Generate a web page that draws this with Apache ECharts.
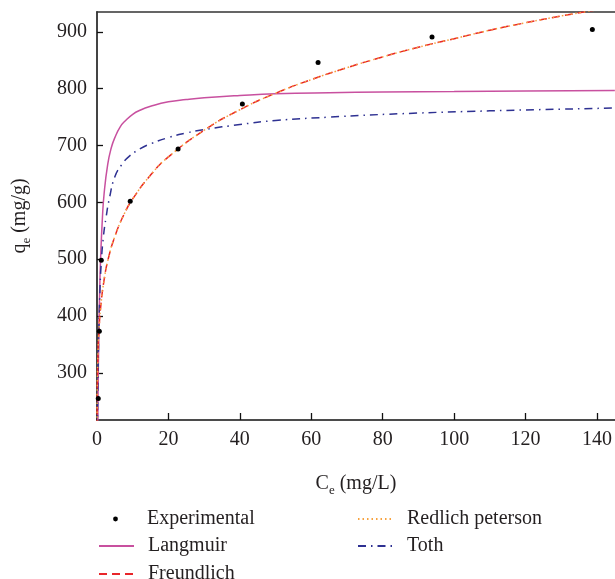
<!DOCTYPE html>
<html>
<head>
<meta charset="utf-8">
<script src="https://cdn.jsdelivr.net/npm/echarts@6/dist/echarts.min.js"></script>
<style>
  html, body { margin: 0; padding: 0; background: #fff; }
  #chart { width: 615px; height: 579px; }
</style>
</head>
<body>
<div id="chart"></div>
<script>
// Adsorption isotherm: equilibrium uptake qe against equilibrium concentration Ce
const ceExp = [0.35, 0.65, 1.2, 9.3, 22.7, 40.7, 61.9, 93.8, 138.7];
const qeExp = [255, 373, 498, 602, 694, 773, 846, 891, 904];

const ceLangmuir = [0.2, 0.3, 0.5, 0.75, 1, 1.5, 2, 3, 4, 5, 6.5, 8, 10, 12, 15, 20, 25, 30, 40, 50, 65, 80, 100, 120, 145];
const qeLangmuir = [200, 267, 364, 444, 500, 571, 616, 667, 696, 714, 733, 744, 755, 762, 769, 777, 781, 784, 788, 791, 793, 794, 795, 796, 797];

const ceFreundlich = [0.003, 0.01, 0.03, 0.1, 0.3, 0.6, 1, 2, 3.2, 5, 7.5, 10, 15, 20, 30, 40, 50, 60, 70, 80, 90, 100, 110, 120, 130, 140, 145];
const qeFreundlich = [158, 193, 231, 282, 339, 380, 414, 464, 502, 540, 578, 606, 648, 680, 727, 763, 792, 816, 837, 856, 873, 888, 903, 916, 928, 939, 945];

const ceRedlich = [0.003, 0.01, 0.03, 0.1, 0.3, 0.6, 1, 2, 3.2, 5, 7.5, 10, 15, 20, 30, 40, 50, 60, 70, 80, 90, 100, 110, 120, 130, 140, 145];
const qeRedlich = [150, 190, 229, 281, 338, 380, 414, 464, 502, 540, 578, 606, 648, 680, 727, 763, 792, 816, 837, 856, 873, 888, 903, 916, 928, 939, 945];

const ceToth = [0.1, 0.3, 0.5, 0.8, 1.2, 1.8, 2.5, 3.5, 5, 7, 9, 12, 15, 20, 25, 30, 40, 50, 65, 85, 110, 145];
const qeToth = [200, 300, 370, 440, 495, 540, 572, 608, 645, 667, 681, 694, 703, 714, 722, 728, 737, 744, 750, 756, 761, 766];

const xTicks = [0, 20, 40, 60, 80, 100, 120, 140];
const yTicks = [300, 400, 500, 600, 700, 800, 900];

const pairs = (xs, ys) => xs.map((x, i) => [x, ys[i]]);

const FONT = 'Liberation Serif';
const INK = '#231f20';

const chart = echarts.init(document.getElementById('chart'), null, { renderer: 'canvas' });

const legendText = { fontFamily: FONT, fontSize: 20, color: INK, lineHeight: 20, padding: [0, 0, 0, 9] };

// one legend entry per block so each sits in its own slot of the two-column key
function legendEntry(name, left, top, opts) {
  return Object.assign({
    data: [name], left: left, top: top, orient: 'vertical',
    itemWidth: 35, itemHeight: 14,
    itemStyle: { opacity: 0 },
    textStyle: legendText
  }, opts || {});
}

const nameRich = {
  a: { fontFamily: FONT, fontSize: 20, color: INK, lineHeight: 24, verticalAlign: 'bottom' },
  s: { fontFamily: FONT, fontSize: 13, color: INK, lineHeight: 24, verticalAlign: 'bottom', padding: [0, 0, -3, 0] }
};

chart.setOption({
  animation: false,
  backgroundColor: '#fff',
  grid: { left: 97, right: 0, top: 12, bottom: 159, containLabel: false },
  xAxis: [{
    type: 'value', min: 0, max: 145,
    name: '{a|C}{s|e}{a| (mg/L)}',
    nameLocation: 'middle', nameGap: 50,
    nameTextStyle: { rich: nameRich },
    axisLine: { show: true, onZero: false, lineStyle: { color: '#111', width: 1.5 } },
    axisTick: { show: true, inside: true, length: 7, customValues: xTicks, lineStyle: { color: '#111', width: 1.3 } },
    axisLabel: { customValues: xTicks, fontFamily: FONT, fontSize: 20, color: INK, margin: 10 },
    splitLine: { show: false }
  }, {
    type: 'value', position: 'top', min: 0, max: 145,
    axisLine: { show: true, onZero: false, lineStyle: { color: '#333', width: 1.5 } },
    axisTick: { show: false }, axisLabel: { show: false }, splitLine: { show: false }
  }],
  yAxis: {
    type: 'value', min: 217, max: 935,
    name: '{a|q}{s|e}{a| (mg/g)}',
    nameLocation: 'middle', nameGap: 67, nameRotate: 90,
    nameTextStyle: { rich: nameRich },
    axisLine: { show: true, onZero: false, lineStyle: { color: '#444', width: 2 } },
    axisTick: { show: true, inside: true, length: 6, customValues: yTicks, lineStyle: { color: '#111', width: 1.3 } },
    axisLabel: { customValues: yTicks, fontFamily: FONT, fontSize: 20, color: INK, margin: 10 },
    splitLine: { show: false }
  },
  legend: [
    legendEntry('Experimental', 93, 504, { itemHeight: 6, itemStyle: {}, lineStyle: { opacity: 0 } }),
    legendEntry('Langmuir', 93, 531),
    legendEntry('Freundlich', 93, 559),
    legendEntry('Redlich peterson', 352, 504),
    legendEntry('Toth', 352, 531)
  ],
  series: [{
    name: 'Langmuir', type: 'line', smooth: true, symbol: 'none',
    data: pairs(ceLangmuir, qeLangmuir),
    lineStyle: { color: '#c8509f', width: 1.5 },
    itemStyle: { color: '#c8509f' }, z: 2
  }, {
    name: 'Toth', type: 'line', smooth: true, symbol: 'none',
    data: pairs(ceToth, qeToth),
    lineStyle: { color: '#2e3192', width: 1.5, type: [8, 5, 1.5, 5] },
    itemStyle: { color: '#2e3192' }, z: 2
  }, {
    name: 'Freundlich', type: 'line', smooth: true, symbol: 'none',
    data: pairs(ceFreundlich, qeFreundlich),
    lineStyle: { color: '#e8262a', width: 1.5, type: [8, 5] },
    itemStyle: { color: '#e8262a' }, z: 3
  }, {
    name: 'Redlich peterson', type: 'line', smooth: true, symbol: 'none',
    data: pairs(ceRedlich, qeRedlich),
    lineStyle: { color: '#f7a23e', width: 1.5, type: [1.5, 3] },
    itemStyle: { color: '#f7a23e' }, z: 4
  }, {
    // measured points: markers only, no connecting line
    name: 'Experimental', type: 'line', symbol: 'circle', symbolSize: 5, showSymbol: true,
    data: pairs(ceExp, qeExp),
    lineStyle: { opacity: 0, width: 0 },
    itemStyle: { color: '#000' }, z: 5
  }]
});
</script>
</body>
</html>
